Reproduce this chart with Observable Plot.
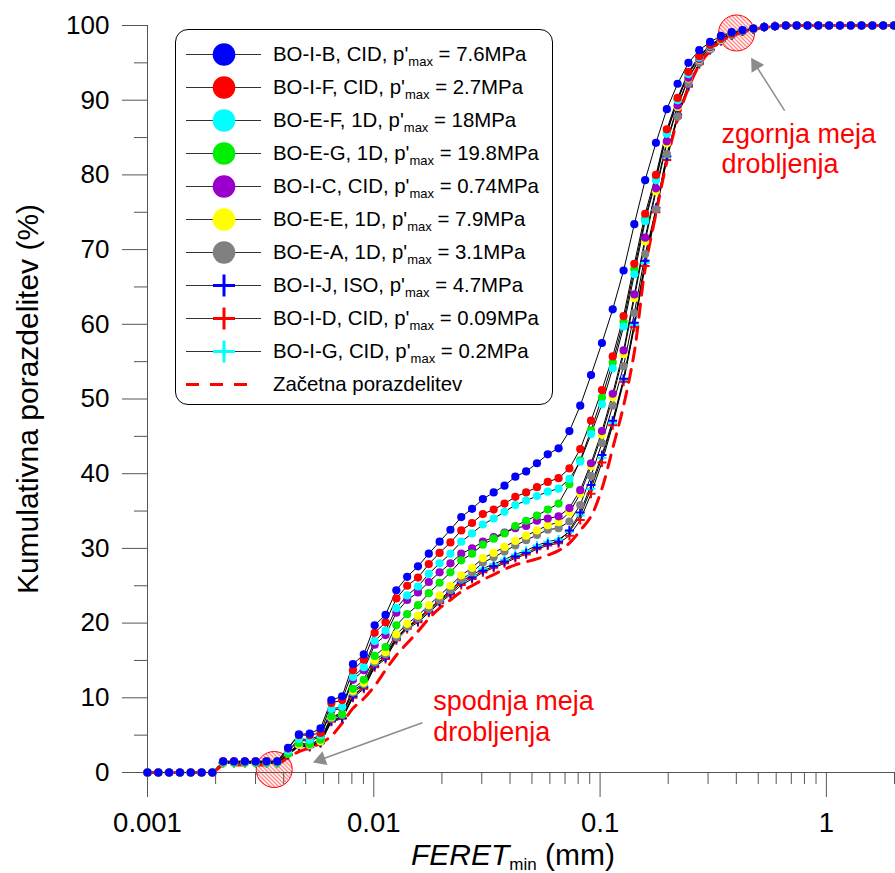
<!DOCTYPE html>
<html>
<head>
<meta charset="utf-8">
<script src="https://cdn.jsdelivr.net/npm/d3@7"></script>
<script src="https://cdn.jsdelivr.net/npm/@observablehq/plot@0.6"></script>
<style>
  body { margin: 0; background: #fff; }
  #wrap { position: relative; width: 895px; height: 873px; font-family: "Liberation Sans", Arial, sans-serif; }
  #legend { position: absolute; left: 175px; top: 29px; width: 376px; height: 374px; border: 1px solid #000; border-radius: 13px; background: #fff; }
  .row { position: absolute; left: 0; width: 100%; height: 33px; }
  .row svg { position: absolute; left: 10px; top: 0; }
  .row span { position: absolute; left: 97px; top: 0; font-size: 20.4px; line-height: 33px; white-space: nowrap; color: #000; }
  .row sub { font-size: 13px; vertical-align: -5px; line-height: 0; }
</style>
</head>
<body>
<div id="wrap"><div id="legend"></div></div>
<script>
// ---- x grid: FERET_min bin positions (mm) ----
const feret = [0.001, 0.001116, 0.001246, 0.001391, 0.001553, 0.001734, 0.001935, 0.002160, 0.002412, 0.002692,
  0.003005, 0.003355, 0.003745, 0.004181, 0.004667, 0.005210, 0.005816, 0.006493, 0.007248, 0.008091,
  0.009032, 0.01009, 0.01127, 0.01258, 0.01404, 0.01568, 0.01750, 0.01954, 0.02181, 0.02435,
  0.02718, 0.03034, 0.03387, 0.03781, 0.04221, 0.04712, 0.05260, 0.05872, 0.06556, 0.07318,
  0.08170, 0.09120, 0.1019, 0.1137, 0.1270, 0.1417, 0.1582, 0.1766, 0.1972, 0.2201,
  0.2457, 0.2743, 0.3063, 0.3419, 0.3817, 0.4261, 0.4757, 0.5311, 0.5929, 0.6619,
  0.7389, 0.8249, 0.9209, 1.028, 1.148, 1.281, 1.430, 1.597, 1.783, 1.990];

// ---- cumulative distributions (%) ----
const boIB = [0,0,0,0,0,0,0, 1.5,1.5,1.5,1.5,1.5,1.5,
  3.3,5.1,5.2,5.9,9.7,10.2,14.5,15.8,19.7,21.1,24.4,26.2,27.6,29.3,30.9,32.5,34.2,35.3,36.6,37.5,38.4,39.6,40.3,41.4,42.6,43.4,45.7,49.1,53.2,57.5,62.0,67.2,73.4,79.3,84.3,88.8,92.2,95.0,96.7,97.8,98.6,99.1,99.4,99.6,99.8,99.9,
  100,100,100,100,100,100,100,100,100,100,100];
const boIF = [0,0,0,0,0,0,0, 1.5,1.5,1.5,1.5,1.5,1.5,
  3.2,5.0,5.0,5.3,9.3,9.7,13.7,15.1,18.7,20.1,23.3,25.0,26.1,27.9,29.4,30.8,32.4,33.4,34.6,35.2,36.0,36.9,37.5,38.2,38.9,39.4,40.7,43.3,47.1,51.2,55.7,61.1,68.1,74.8,80.0,86.1,90.3,93.8,95.9,97.4,98.3,98.9,99.3,99.6,99.8,99.9,
  100,100,100,100,100,100,100,100,100,100,100];
const boEF = [0,0,0,0,0,0,0, 1.4,1.4,1.4,1.4,1.4,1.4,
  2.9,4.5,4.4,5.0,8.5,8.8,12.8,14.1,17.6,19.0,22.0,23.7,24.9,26.6,28.0,29.3,30.9,32.0,33.2,34.0,34.9,35.8,36.4,37.0,37.6,38.0,39.3,41.6,45.3,49.3,54.1,59.7,66.7,73.8,79.3,85.5,90.0,93.5,95.7,97.3,98.3,98.9,99.3,99.6,99.8,99.9,
  100,100,100,100,100,100,100,100,100,100,100];
const boEG = [0,0,0,0,0,0,0, 1.3,1.3,1.3,1.3,1.3,1.3,
  2.5,3.9,3.8,4.4,7.5,7.8,11.2,12.4,15.6,16.8,19.7,21.2,22.4,24.0,25.4,26.8,28.4,29.3,30.5,31.3,32.0,33.0,33.7,34.4,35.2,36.0,38.6,41.8,45.8,50.2,54.9,60.4,67.4,74.2,79.6,85.7,90.1,93.6,95.8,97.3,98.3,98.9,99.3,99.6,99.8,99.9,
  100,100,100,100,100,100,100,100,100,100,100];
const boIC = [0,0,0,0,0,0,0, 1.4,1.4,1.4,1.4,1.4,1.4,
  2.8,4.3,4.2,4.8,8.3,8.6,12.4,13.7,17.1,18.4,21.4,23.1,24.1,25.5,26.8,28.0,29.3,30.0,30.9,31.5,32.1,32.7,33.0,33.7,34.0,34.3,35.4,37.8,41.4,45.7,50.7,56.5,64.0,71.6,78.2,84.5,89.3,93.0,95.5,97.1,98.2,98.8,99.3,99.6,99.8,99.9,
  100,100,100,100,100,100,100,100,100,100,100];
const boEE = [0,0,0,0,0,0,0, 1.3,1.3,1.3,1.3,1.3,1.3,
  2.5,3.7,3.7,4.2,7.4,8.0,10.9,12.0,15.0,16.1,18.5,19.9,21.0,22.4,23.7,25.0,26.4,27.4,28.7,29.4,30.2,31.0,31.7,32.4,33.1,33.5,34.8,37.3,41.0,45.2,50.2,56.0,63.5,71.1,77.8,84.2,89.1,92.9,95.4,97.0,98.1,98.8,99.3,99.6,99.8,99.9,
  100,100,100,100,100,100,100,100,100,100,100];
const boEA = [0,0,0,0,0,0,0, 1.3,1.3,1.3,1.3,1.3,1.3,
  2.5,3.7,3.6,4.1,7.2,7.7,10.7,11.8,14.7,15.8,18.1,19.5,20.6,21.9,23.1,24.4,25.8,26.8,28.1,28.8,29.6,30.4,31.1,31.8,32.5,32.7,33.6,35.8,39.7,44.1,49.1,54.4,61.5,69.4,75.4,82.8,87.8,92.2,95.0,96.8,98.0,98.7,99.2,99.5,99.8,99.9,
  100,100,100,100,100,100,100,100,100,100,100];
const boIJ = [0,0,0,0,0,0,0, 1.3,1.3,1.3,1.3,1.3,1.3,
  2.4,3.6,3.5,4.0,6.9,7.3,10.2,11.4,14.3,15.4,17.9,19.4,20.3,21.6,22.9,24.0,25.4,26.1,27.0,27.6,28.2,28.9,29.4,30.1,30.6,30.9,32.4,34.8,38.5,42.5,47.1,52.7,60.2,68.5,75.6,82.5,88.1,92.0,95.0,96.8,98.0,98.7,99.2,99.5,99.8,99.9,
  100,100,100,100,100,100,100,100,100,100,100];
const boID = [0,0,0,0,0,0,0, 1.3,1.3,1.3,1.3,1.3,1.3,
  2.3,3.5,3.4,3.9,6.8,7.2,10.0,11.2,14.1,15.2,17.7,19.2,20.1,21.4,22.7,23.8,25.1,25.9,26.8,27.4,28.0,28.7,29.2,29.9,30.4,30.7,31.7,33.8,37.3,41.5,46.5,52.3,59.6,67.8,75.0,82.0,87.7,91.8,94.8,96.7,97.9,98.7,99.2,99.5,99.8,99.9,
  100,100,100,100,100,100,100,100,100,100,100];
const boIG = [0,0,0,0,0,0,0, 1.3,1.3,1.3,1.3,1.3,1.3,
  2.4,3.6,3.5,4.0,7.0,7.4,10.3,11.5,14.4,15.5,18.0,19.5,20.4,21.8,23.0,24.2,25.6,26.4,27.3,27.9,28.5,29.2,29.7,30.4,30.9,31.2,32.2,34.4,38.0,42.1,46.8,52.5,59.9,68.2,75.3,82.3,87.9,91.9,94.9,96.8,98.0,98.7,99.2,99.5,99.8,99.9,
  100,100,100,100,100,100,100,100,100,100,100];
const initial = [0,0,0,0,0,0,0, 1.0,1.0,1.0,1.0,1.0,1.1,
  2.0,2.8,3.3,3.9,4.9,6.6,8.6,9.9,11.6,13.7,15.7,17.3,18.9,20.6,22.0,23.1,24.2,25.0,25.8,26.5,27.2,27.8,28.2,28.6,29.1,29.7,30.7,32.4,34.3,38.0,43.4,49.1,56.3,67.5,74.8,81.8,87.5,91.6,94.7,96.6,97.9,98.6,99.1,99.5,99.7,99.9,
  100,100,100,100,100,100,100,100,100,100,100];

// ---- legend / series metadata ----
const sampleIds = ["BO-I-B", "BO-I-F", "BO-E-F", "BO-E-G", "BO-I-C", "BO-E-E", "BO-E-A", "BO-I-J", "BO-I-D", "BO-I-G"];
const testTypes = ["CID", "CID", "1D", "1D", "CID", "1D", "1D", "ISO", "CID", "CID"];
const pMax = ["7.6MPa", "2.7MPa", "18MPa", "19.8MPa", "0.74MPa", "7.9MPa", "3.1MPa", "4.7MPa", "0.09MPa", "0.2MPa"];
const seriesValues = [boIB, boIF, boEF, boEG, boIC, boEE, boEA, boIJ, boID, boIG];
const colors = ["#0000ff", "#ff0000", "#00ffff", "#00ee00", "#9900cc", "#ffff00", "#808080", "#0000ff", "#ff0000", "#00ffff"];
const symbols = ["circle", "circle", "circle", "circle", "circle", "circle", "circle", "plus", "plus", "plus"];
const initialLabel = "Začetna porazdelitev";

// ---- axes ----
const xMajor = [0.001, 0.01, 0.1, 1];
const xMinor = [0.002,0.003,0.004,0.005,0.006,0.007,0.008,0.009,0.02,0.03,0.04,0.05,0.06,0.07,0.08,0.09,0.2,0.3,0.4,0.5,0.6,0.7,0.8,0.9,2];
const yMajor = [0,10,20,30,40,50,60,70,80,90,100];
const yMinor = [5,15,25,35,45,55,65,75,85,95];
const yLabel = "Kumulativna porazdelitev (%)";
const xLabelParts = ["FERET", "min", " (mm)"];

// ---- annotations ----
const limitCircles = [{x: 0.401, y: 99.0}, {x: 0.00363, y: 0.4}];
const annotTexts = [
  {x: 0.344, y: 87.2, t: "zgornja meja\ndrobljenja"},
  {x: 0.0183, y: 11.2, t: "spodnja meja\ndrobljenja"}
];
const arrowLines = [
  {x1: 0.654, y1: 88.6, x2: 0.4867, y2: 94.7, rot: -32},
  {x1: 0.01639, y1: 6.65, x2: 0.005842, y2: 1.73, rot: -110}
];

const rows = [];
seriesValues.forEach((vals, si) => vals.forEach((v, i) => { if (i < feret.length) rows.push({x: feret[i], y: v, s: si}); }));
const initRows = initial.map((v, i) => ({x: feret[i], y: v})).filter(d => d.x !== undefined);

const axisColor = "#555";
const markerMarks = [];
for (let si = seriesValues.length - 1; si >= 0; si--) {
  const data = rows.filter(d => d.s === si);
  if (symbols[si] === "circle") {
    markerMarks.push(Plot.dot(data, {x: "x", y: "y", r: 4.1, fill: colors[si], stroke: "none"}));
  } else {
    markerMarks.push(Plot.dot(data, {x: "x", y: "y", r: 3.0, symbol: "plus", stroke: colors[si], strokeWidth: 2}));
  }
}

const chart = Plot.plot({
  width: 895, height: 873,
  marginLeft: 147, marginRight: 1, marginTop: 25, marginBottom: 101,
  x: {type: "log", domain: [0.001, 2]},
  y: {domain: [0, 100]},
  style: {background: "transparent", color: "black", fontFamily: "Liberation Sans, Arial, sans-serif", overflow: "visible"},
  marks: [
    Plot.dot(limitCircles, {x: "x", y: "y", r: 18, fill: "url(#hatch)", stroke: "#ff0000", strokeWidth: 1}),
    Plot.ruleY([0], {stroke: axisColor, strokeWidth: 1}),
    Plot.ruleX([0.001], {y1: 0, y2: 100, stroke: axisColor, strokeWidth: 1}),
    Plot.axisY({ticks: yMajor, tickSize: 25, tickPadding: 13, fontSize: 26, stroke: axisColor, fill: "black", label: null, tickFormat: d => String(d)}),
    Plot.axisY({ticks: yMinor, tickSize: 13, stroke: axisColor, label: null, tickFormat: () => ""}),
    Plot.axisX({ticks: xMajor, tickSize: 25, tickPadding: 15, fontSize: 27.5, stroke: axisColor, fill: "black", label: null, tickFormat: d => String(d)}),
    Plot.axisX({ticks: xMinor, tickSize: 12, stroke: axisColor, label: null, tickFormat: () => ""}),
    Plot.line(rows, {x: "x", y: "y", z: "s", stroke: "black", strokeWidth: 1}),
    Plot.line(initRows, {x: "x", y: "y", stroke: "#ff0000", strokeWidth: 3, strokeDasharray: "13,9", curve: "catmull-rom"}),
    ...markerMarks,
    Plot.link(arrowLines, {x1: "x1", y1: "y1", x2: "x2", y2: "y2", stroke: "#8c8c8c", strokeWidth: 1.5}),
    Plot.dot(arrowLines, {x: "x2", y: "y2", symbol: "triangle", r: 5.5, rotate: "rot", fill: "#8c8c8c", stroke: "none"}),
    Plot.text(annotTexts, {x: "x", y: "y", text: "t", textAnchor: "start", lineAnchor: "top", fontSize: 27, fill: "#ff0000", lineHeight: 1.12}),
    Plot.text([yLabel], {frameAnchor: "left", text: d => d, rotate: -90, textAnchor: "middle", lineAnchor: "middle", dx: -119, fontSize: 30, fill: "black"}),
    Plot.text([xLabelParts.join("")], {frameAnchor: "bottom", text: d => d, textAnchor: "middle", lineAnchor: "middle", dx: -8, dy: 83, fontSize: 30, fill: "black"})
  ]
});

// hatch pattern
const defs = d3.select(chart).insert("defs", ":first-child");
const pat = defs.append("pattern").attr("id", "hatch").attr("patternUnits", "userSpaceOnUse").attr("width", 4).attr("height", 4);
pat.append("path").attr("d", "M-1,-1L5,5M3,-1L5,1M-1,3L1,5").attr("stroke", "#ff0000").attr("stroke-width", 0.9).attr("fill", "none");

// styled x label (italic FERET, subscript min)
d3.select(chart).selectAll("text").filter(function() { return this.textContent === xLabelParts.join(""); })
  .each(function() {
    const t = d3.select(this);
    t.text("");
    t.append("tspan").attr("font-style", "italic").text(xLabelParts[0]);
    t.append("tspan").attr("font-size", 17).attr("dy", 5).text(xLabelParts[1]);
    t.append("tspan").attr("dy", -5).text(xLabelParts[2]);
  });

const wrap = document.getElementById("wrap");
wrap.insertBefore(chart, wrap.firstChild);

// legend
const legend = document.getElementById("legend");
const ns = "http://www.w3.org/2000/svg";
function addRow(k, drawSample, html) {
  const row = document.createElement("div");
  row.className = "row";
  row.style.top = (7.5 + 33 * k) + "px";
  const s = document.createElementNS(ns, "svg");
  s.setAttribute("width", 80); s.setAttribute("height", 33);
  drawSample(d3.select(s));
  row.appendChild(s);
  const span = document.createElement("span");
  span.innerHTML = html;
  row.appendChild(span);
  legend.appendChild(row);
}
sampleIds.forEach((id, k) => {
  addRow(k, g => {
    g.append("line").attr("x1", 0).attr("x2", 75).attr("y1", 16.5).attr("y2", 16.5).attr("stroke", "#333").attr("stroke-width", 1.2);
    if (symbols[k] === "circle") {
      g.append("circle").attr("cx", 38).attr("cy", 16.5).attr("r", 11.3).attr("fill", colors[k]);
    } else {
      g.append("path").attr("d", "M27,16.5H49M38,5.5V27.5").attr("stroke", colors[k]).attr("stroke-width", 3);
    }
  }, `${id}, ${testTypes[k]}, p'<sub>max</sub> = ${pMax[k]}`);
});
addRow(sampleIds.length, g => {
  g.append("line").attr("x1", 0).attr("x2", 64).attr("y1", 16.5).attr("y2", 16.5).attr("stroke", "#ff0000").attr("stroke-width", 3).attr("stroke-dasharray", "13,11");
}, initialLabel);
</script>
</body>
</html>
